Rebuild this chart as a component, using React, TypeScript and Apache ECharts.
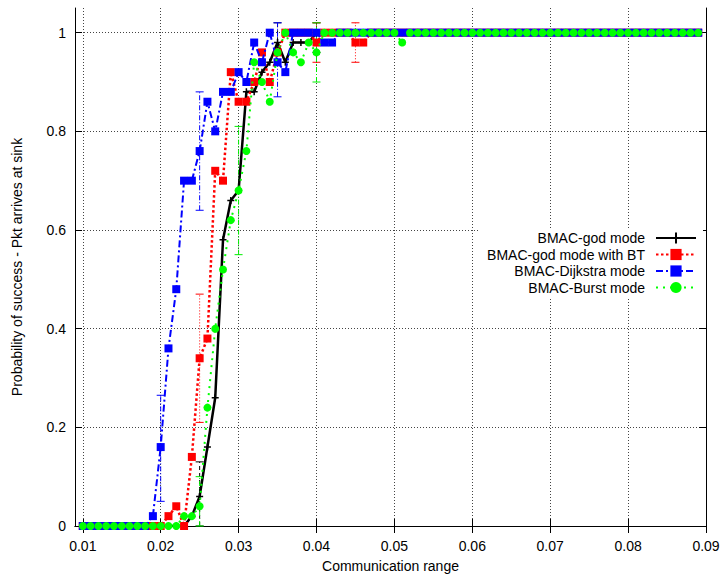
import { useEffect, useRef } from 'react';
import * as echarts from 'echarts';

// Communication range samples
const xValues = [
  0.010, 0.011, 0.012, 0.013, 0.014, 0.015, 0.016, 0.017, 0.018, 0.019,
  0.020, 0.021, 0.022, 0.023, 0.024, 0.025, 0.026, 0.027, 0.028, 0.029,
  0.030, 0.031, 0.032, 0.033, 0.034, 0.035, 0.036, 0.037, 0.038, 0.039,
  0.040, 0.041, 0.042, 0.043, 0.044, 0.045, 0.046, 0.047, 0.048, 0.049,
  0.050, 0.051, 0.052, 0.053, 0.054, 0.055, 0.056, 0.057, 0.058, 0.059,
  0.060, 0.061, 0.062, 0.063, 0.064, 0.065, 0.066, 0.067, 0.068, 0.069,
  0.070, 0.071, 0.072, 0.073, 0.074, 0.075, 0.076, 0.077, 0.078, 0.079,
  0.080, 0.081, 0.082, 0.083, 0.084, 0.085, 0.086, 0.087, 0.088, 0.089,
];

const godMode = [
  0, 0, 0, 0, 0, 0, 0, 0, 0, 0,
  0, 0, 0, 0, 0.02, 0.06, 0.16, 0.26, 0.58, 0.66,
  0.68, 0.88, 0.88, 0.92, 0.94, 0.98, 0.94, 0.98, 0.98, 0.98,
  1, 1, 1, 1, 1, 1, 1, 1, 1, 1,
  1, 1, 1, 1, 1, 1, 1, 1, 1, 1,
  1, 1, 1, 1, 1, 1, 1, 1, 1, 1,
  1, 1, 1, 1, 1, 1, 1, 1, 1, 1,
  1, 1, 1, 1, 1, 1, 1, 1, 1, 1,
];

const godModeBT = [
  0, 0, 0, 0, 0, 0, 0, 0, 0, 0,
  0, 0.02, 0.04, 0, 0.14, 0.34, 0.38, 0.72, 0.70, 0.92,
  0.86, 0.86, 0.90, 0.96, 0.90, 0.96, 1, 1, 1, 1,
  0.98, 1, 1, 1, 1, 0.98, 0.98, 1, 1, 1,
  1, 1, 1, 1, 1, 1, 1, 1, 1, 1,
  1, 1, 1, 1, 1, 1, 1, 1, 1, 1,
  1, 1, 1, 1, 1, 1, 1, 1, 1, 1,
  1, 1, 1, 1, 1, 1, 1, 1, 1, 1,
];

const dijkstra = [
  0, 0, 0, 0, 0, 0, 0, 0, 0, 0.02,
  0.16, 0.36, 0.48, 0.70, 0.70, 0.76, 0.86, 0.80, 0.88, 0.88,
  0.92, 0.90, 0.98, 0.94, 1, 0.94, 0.92, 1, 1, 1,
  1, 0.98, 0.98, 1, 1, 1, 1, 1, 1, 1,
  1, 1, 1, 1, 1, 1, 1, 1, 1, 1,
  1, 1, 1, 1, 1, 1, 1, 1, 1, 1,
  1, 1, 1, 1, 1, 1, 1, 1, 1, 1,
  1, 1, 1, 1, 1, 1, 1, 1, 1, 1,
];

const burst = [
  0, 0, 0, 0, 0, 0, 0, 0, 0, 0,
  0, 0, 0, 0.02, 0.02, 0.04, 0.24, 0.40, 0.52, 0.62,
  0.68, 0.76, 0.94, 0.90, 0.86, 0.96, 1, 0.96, 0.94, 0.98,
  0.96, 1, 1, 1, 1, 1, 1, 1, 1, 1,
  1, 0.98, 1, 1, 1, 1, 1, 1, 1, 1,
  1, 1, 1, 1, 1, 1, 1, 1, 1, 1,
  1, 1, 1, 1, 1, 1, 1, 1, 1, 1,
  1, 1, 1, 1, 1, 1, 1, 1, 1, 1,
];

// Error bars: [x, low, high]
const godErr = [[0.025, 0.0, 0.13], [0.035, 0.94, 1.02], [0.040, 0.96, 1.02]];
const btErr = [[0.025, 0.21, 0.47], [0.040, 0.94, 1.02], [0.045, 0.94, 1.02]];
const dijErr = [[0.020, 0.05, 0.265], [0.025, 0.64, 0.88], [0.035, 0.87, 1.02]];
const burstErr = [[0.025, 0.0, 0.10], [0.030, 0.55, 0.81], [0.040, 0.90, 1.02]];

const xTicks = [0.01, 0.02, 0.03, 0.04, 0.05, 0.06, 0.07, 0.08, 0.09];
const yTicks = [0, 0.2, 0.4, 0.6, 0.8, 1];

const seriesNames = ['BMAC-god mode', 'BMAC-god mode with BT', 'BMAC-Dijkstra mode', 'BMAC-Burst mode'];

const FONT = "'Liberation Sans', Arial, sans-serif";

function pairs(ys: number[]) {
  return xValues.map((x, i) => [x, ys[i]]);
}

function errSeries(name: string, data: number[][], color: string, dash: number[] | 'solid') {
  return {
    name,
    type: 'custom',
    xAxisIndex: 0,
    yAxisIndex: 0,
    encode: { x: 0, y: [1, 2] },
    data,
    z: 1,
    renderItem: (params: any, api: any) => {
      const x = api.value(0);
      const lo = api.coord([x, api.value(1)]);
      const hi = api.coord([x, api.value(2)]);
      const w = 4;
      const st: any = { stroke: color, lineWidth: 1 };
      const dst: any = { stroke: color, lineWidth: 1, lineDash: dash === 'solid' ? null : dash };
      return {
        type: 'group',
        children: [
          { type: 'line', shape: { x1: lo[0], y1: lo[1], x2: hi[0], y2: hi[1] }, style: dst },
          { type: 'line', shape: { x1: lo[0] - w, y1: lo[1], x2: lo[0] + w, y2: lo[1] }, style: st },
          { type: 'line', shape: { x1: hi[0] - w, y1: hi[1], x2: hi[0] + w, y2: hi[1] }, style: st },
        ],
      };
    },
  };
}

export default function App() {
  const ref = useRef<HTMLDivElement>(null);
  useEffect(() => {
    if (!ref.current) return;
    const chart = echarts.init(ref.current, undefined, { renderer: 'svg' });
    const axisCommon = {
      type: 'value',
      axisLine: { show: true, lineStyle: { color: '#000', width: 1 } },
    };
    chart.setOption({
      animation: false,
      backgroundColor: '#fff',
      textStyle: { fontFamily: FONT, color: '#000' },
      grid: { left: 75, right: 16, top: 8, bottom: 49, outerBoundsMode: 'none', containLabel: false },
      legend: {
        data: seriesNames,
        orient: 'vertical',
        right: 19,
        top: 229,
        align: 'right',
        itemWidth: 40,
        itemHeight: 14,
        itemGap: 2.5,
        padding: [2, 6, 3, 8],
        backgroundColor: '#fff',
        textStyle: { fontFamily: FONT, fontSize: 14, color: '#000', padding: [0, 6, 0, 0] },
      },
      xAxis: [
        {
          ...axisCommon,
          min: 0.009,
          max: 0.09,
          position: 'bottom',
          name: 'Communication range',
          nameLocation: 'middle',
          nameGap: 33,
          nameTextStyle: { fontFamily: FONT, fontSize: 14, color: '#000' },
          axisTick: { show: true, inside: true, length: 7, customValues: xTicks, lineStyle: { color: '#000' } },
          axisLabel: {
            customValues: xTicks,
            margin: 13,
            fontFamily: FONT,
            fontSize: 14,
            color: '#000',
            formatter: (v: number) => v.toFixed(2),
          },
          splitLine: { show: true, lineStyle: { color: '#444', type: [1, 2], width: 1 } },
        },
        {
          ...axisCommon,
          min: 0.009,
          max: 0.09,
          position: 'top',
          axisTick: { show: true, inside: true, length: 7, customValues: xTicks, lineStyle: { color: '#000' } },
          axisLabel: { show: false },
          splitLine: { show: false },
        },
      ],
      yAxis: [
        {
          ...axisCommon,
          min: 0,
          max: 1.05,
          position: 'left',
          name: 'Probability of success - Pkt arrives at sink',
          nameLocation: 'middle',
          nameGap: 51,
          nameTextStyle: { fontFamily: FONT, fontSize: 14, color: '#000' },
          axisTick: { show: true, inside: true, length: 7, customValues: yTicks, lineStyle: { color: '#000' } },
          axisLabel: {
            customValues: yTicks,
            margin: 9,
            fontFamily: FONT,
            fontSize: 14,
            color: '#000',
            formatter: (v: number) => (Math.abs(v - Math.round(v)) < 1e-9 ? String(Math.round(v)) : v.toFixed(1)),
          },
          splitLine: { show: true, lineStyle: { color: '#444', type: [1, 2], width: 1 } },
        },
        {
          ...axisCommon,
          min: 0,
          max: 1.05,
          position: 'right',
          axisTick: { show: true, inside: true, length: 7, customValues: yTicks, lineStyle: { color: '#000' } },
          axisLabel: { show: false },
          splitLine: { show: false },
        },
      ],
      series: [
        errSeries('err-god', godErr, '#000', [4, 3]),
        errSeries('err-bt', btErr, '#ff0000', [1, 2]),
        errSeries('err-dij', dijErr, '#0000ff', [5, 2, 1, 2]),
        errSeries('err-burst', burstErr, '#00ee00', [5, 2, 1, 2]),
        {
          name: seriesNames[0],
          type: 'line',
          data: pairs(godMode),
          symbol: 'path://M0,-5L0,5M-5,0L5,0',
          symbolSize: 7,
          showAllSymbol: true,
          lineStyle: { color: '#000', width: 2.5, type: 'solid' },
          itemStyle: { color: '#000', borderColor: '#000', borderWidth: 1.5 },
          z: 2,
        },
        {
          name: seriesNames[1],
          type: 'line',
          data: pairs(godModeBT),
          symbol: 'rect',
          symbolSize: 8,
          showAllSymbol: true,
          lineStyle: { color: '#ff0000', width: 2.5, type: [2.5, 2.5] },
          itemStyle: { color: '#ff0000' },
          z: 3,
        },
        {
          name: seriesNames[2],
          type: 'line',
          data: pairs(dijkstra),
          symbol: 'rect',
          symbolSize: 8,
          showAllSymbol: true,
          lineStyle: { color: '#0000ff', width: 2, type: [7, 3, 2, 3] },
          itemStyle: { color: '#0000ff' },
          z: 4,
        },
        {
          name: seriesNames[3],
          type: 'line',
          data: pairs(burst),
          symbol: 'circle',
          symbolSize: 8,
          showAllSymbol: true,
          lineStyle: { color: '#00ff00', width: 2, type: [2, 5] },
          itemStyle: { color: '#00ff00' },
          z: 5,
        },
      ],
    });
    return () => chart.dispose();
  }, []);
  return (
    <div
      ref={ref}
      style={{ position: 'fixed', left: 0, top: 0, width: 722, height: 575, background: '#fff' }}
    />
  );
}
